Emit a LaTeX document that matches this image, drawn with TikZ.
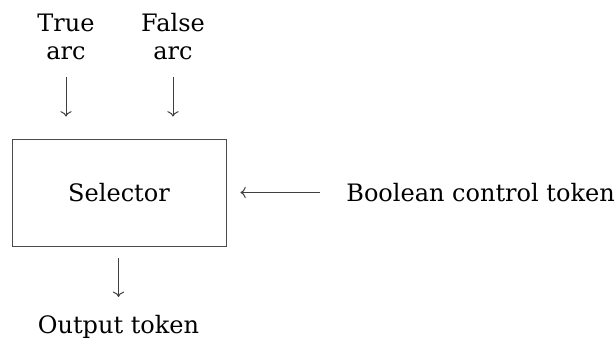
\documentclass[tikz,border=0pt]{standalone}
\usepackage{fontspec}
\setmainfont{DejaVu Serif}
\usetikzlibrary{arrows.meta,positioning}

\begin{document}
\begin{tikzpicture}[x=0.5pt,y=0.5pt,>={To}, every node/.style={font=\fontsize{12}{14}\selectfont}]
    \tikzset{block/.style={draw,black!70,text=black,minimum width=107pt,minimum height=53.5pt}}
    \tikzset{flow/.style ={->,black!75,line width=0.5pt}}
    \tikzset{lbl/.style  ={align=center,inner sep=0pt}}
    \useasboundingbox (0,0) rectangle (616,343);

    % Selector box
    \node[block] (sel) at (119,150.5) {Selector};

    % Inputs on top
    \node[lbl,anchor=south] (ta) at (66,283) {True\\arc};
    \node[lbl,anchor=south] (fa) at (173,283) {False\\arc};
    \draw[flow,shorten <=8.5pt,shorten >=11pt] (ta.south) -- (ta.south |- sel.north);
    \draw[flow,shorten <=8.5pt,shorten >=11pt] (fa.south) -- (fa.south |- sel.north);

    % Control token from the right
    \node[lbl,anchor=west] (ctl) at (346,150.5) {Boolean control token};
    \draw[flow,shorten <=13pt,shorten >=7pt] (ctl.west) -- (sel.east);

    % Output below
    \node[lbl] (out) at (118.5,16) {Output token};
    \draw[flow,shorten <=6pt,shorten >=9pt] (sel.south -| out.north) -- (out.north);
\end{tikzpicture}
\end{document}
